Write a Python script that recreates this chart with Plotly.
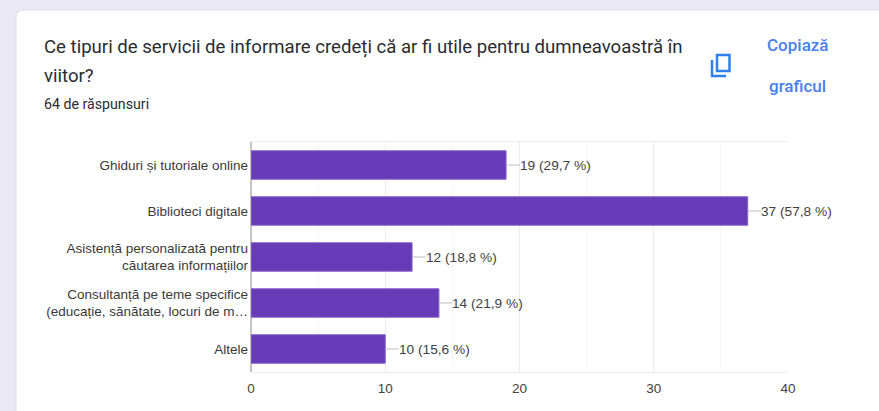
import plotly.graph_objects as go

W, H = 879, 411

# ================== data ==================
categories = [
    "Ghiduri și tutoriale online",
    "Biblioteci digitale",
    "Asistență personalizată pentru<br>căutarea informațiilor",
    "Consultanță pe teme specifice<br>(educație, sănătate, locuri de m…",
    "Altele",
]
counts = [19, 37, 12, 14, 10]
percents = ["29,7", "57,8", "18,8", "21,9", "15,6"]
x_ticks = [0, 10, 20, 30, 40]

title_lines = [
    "Ce tipuri de servicii de informare credeți că ar fi utile pentru dumneavoastră în",
    "viitor?",
]
subtitle = "64 de răspunsuri"
copy_lines = ["Copiază", "graficul"]


def px(x):
    return x / W


def py(y):
    return 1 - y / H


def label(text, x, y, size, color, anchor="left", family="Roboto", weight=400):
    return dict(text=text, x=px(x), y=py(y), xref="paper", yref="paper", showarrow=False,
                xanchor=anchor, yanchor="middle", align=anchor,
                font=dict(family=family, size=size, color=color, weight=weight))


fig = go.Figure(go.Bar(
    y=categories,
    x=counts,
    orientation="h",
    marker=dict(color="#673ab7", line=dict(color="#8a68cc", width=1)),
    hoverinfo="skip",
))

# leader line + value label next to each bar
annotations = [
    dict(x=v, y=c, xref="x", yref="y", text=f"{v} ({p} %)", showarrow=True, arrowhead=0,
         arrowwidth=1, arrowcolor="#bdbdbd", ax=13.5, ay=0, axref="pixel", ayref="pixel",
         xanchor="left", yanchor="middle", standoff=0, borderpad=0, borderwidth=0,
         font=dict(family="Liberation Sans", size=13.7, color="#424242"))
    for c, v, p in zip(categories, counts, percents)
]
annotations += [
    label(title_lines[0], 42, 47, 18.6, "#2b2c30"),
    label(title_lines[1], 42, 76, 18.6, "#2b2c30"),
    label(subtitle, 42, 104.5, 14.2, "#2b2c30"),
    label(copy_lines[0], 797.5, 45, 17, "#4a80ee", "center", weight=500),
    label(copy_lines[1], 797.5, 86, 17, "#4a80ee", "center", weight=500),
]

# white card on the lavender page + the copy icon
card = (f"M{px(16)},{py(420)} L{px(16)},{py(18)} Q{px(16)},{py(10)} {px(24)},{py(10)} "
        f"L{px(890)},{py(10)} L{px(890)},{py(420)} Z")
icon_back = f"M{px(712)},{py(60)} L{px(712)},{py(76)} L{px(726)},{py(76)}"
shapes = [
    dict(type="path", path=card, xref="paper", yref="paper", fillcolor="white",
         line=dict(color="#dfdde6", width=1), layer="below"),
    dict(type="rect", x0=px(717), x1=px(729.5), y0=py(71), y1=py(55), xref="paper", yref="paper",
         line=dict(color="#2f80ed", width=2.5)),
    dict(type="path", path=icon_back, xref="paper", yref="paper",
         line=dict(color="#2f80ed", width=2.5)),
]

fig.update_layout(
    width=W, height=H,
    margin=dict(l=0, r=0, t=0, b=0, autoexpand=False),
    paper_bgcolor="#ece9f6",
    plot_bgcolor="white",
    showlegend=False,
    bargap=0.38,
    annotations=annotations,
    shapes=shapes,
    font=dict(family="Liberation Sans", size=13.5, color="#424242"),
)
fig.update_xaxes(
    domain=[px(251), px(788)], range=[0, 40], tickvals=x_ticks, automargin=False,
    showgrid=True, gridcolor="#ececec", gridwidth=1,
    minor=dict(dtick=5, tick0=0, showgrid=True, gridcolor="#f6f6f6", gridwidth=1),
    zeroline=True, zerolinecolor="#c4c4c4", zerolinewidth=2,
    showline=True, linecolor="#eeeeee", linewidth=1, mirror=True,
    ticks="", ticklabelstandoff=4,
)
fig.update_yaxes(
    domain=[py(372), py(142)], autorange="reversed", categoryorder="array", categoryarray=categories,
    showgrid=False, ticks="", ticklabelstandoff=2, automargin=False,
    tickfont=dict(size=13.5, color="#3a3a3a"),
)

fig.write_html("out.html", config=dict(displayModeBar=False),
               post_script="document.body.style.margin='0';")
